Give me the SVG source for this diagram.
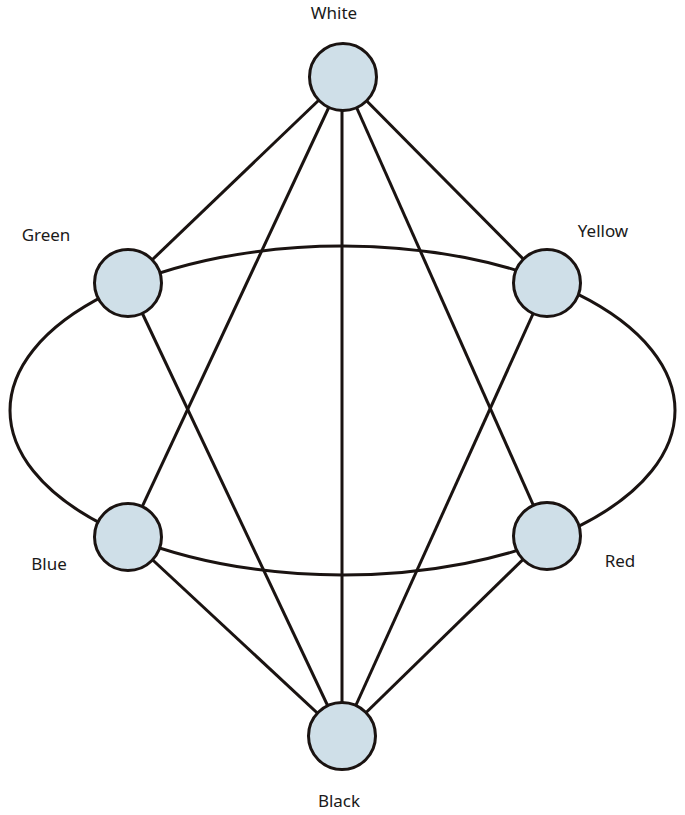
<svg xmlns="http://www.w3.org/2000/svg" width="685" height="815" viewBox="0 0 685 815">
<style>
.edge{fill:none;stroke:#1a1311;stroke-width:3}
.node{fill:#cfdfe8;stroke:#1a1311;stroke-width:3}
.lbl{font-family:"Noto Sans","Open Sans",sans-serif;font-size:17px;fill:#1a1a1a}
</style>
<rect width="685" height="815" fill="#ffffff"/>
<g id="connectors">
<ellipse class="edge" cx="342.5" cy="410.5" rx="332.5" ry="164.5"/>
<line class="edge" x1="343" y1="77" x2="128" y2="283"/>
<line class="edge" x1="343" y1="77" x2="547" y2="283"/>
<line class="edge" x1="343" y1="77" x2="128" y2="537"/>
<line class="edge" x1="343" y1="77" x2="547" y2="536"/>
<line class="edge" x1="342" y1="77" x2="342" y2="736"/>
<line class="edge" x1="342" y1="736" x2="128" y2="283"/>
<line class="edge" x1="342" y1="736" x2="547" y2="283"/>
<line class="edge" x1="342" y1="736" x2="128" y2="537"/>
<line class="edge" x1="342" y1="736" x2="547" y2="536"/>
</g>
<g id="node-white"><circle class="node" cx="343" cy="77" r="33.5"/><text class="lbl" x="334" y="19" text-anchor="middle">White</text></g>
<g id="node-green"><circle class="node" cx="128" cy="283" r="33.5"/><text class="lbl" x="46" y="241" text-anchor="middle">Green</text></g>
<g id="node-yellow"><circle class="node" cx="547" cy="283" r="33.5"/><text class="lbl" x="603" y="237" text-anchor="middle">Yellow</text></g>
<g id="node-blue"><circle class="node" cx="128" cy="537" r="33.5"/><text class="lbl" x="49" y="570" text-anchor="middle">Blue</text></g>
<g id="node-red"><circle class="node" cx="547" cy="536" r="33.5"/><text class="lbl" x="620" y="567" text-anchor="middle">Red</text></g>
<g id="node-black"><circle class="node" cx="342" cy="736" r="33.5"/><text class="lbl" x="339" y="807" text-anchor="middle">Black</text></g>
</svg>
